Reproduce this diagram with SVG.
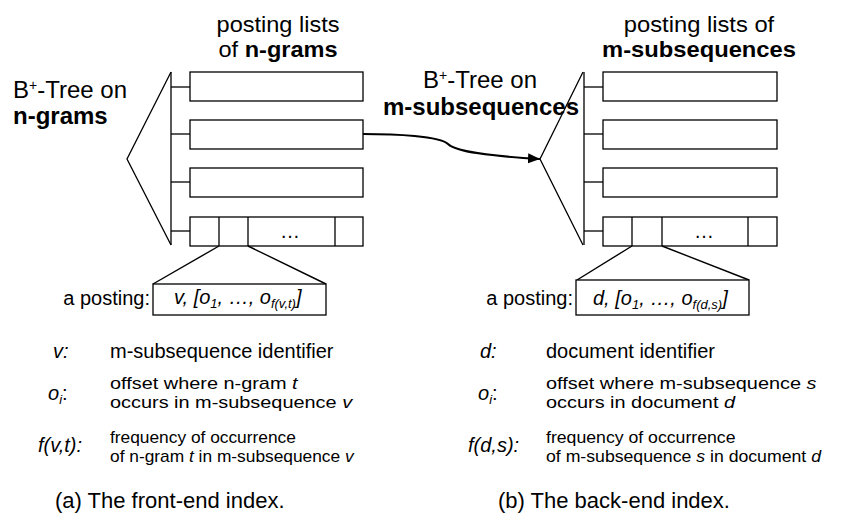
<svg xmlns="http://www.w3.org/2000/svg" width="864" height="516" viewBox="0 0 864 516">
  <style>
    text { font-family: "Liberation Sans", Arial, sans-serif; fill: #000; }
    .title { font-size: 24px; }
    .head { font-size: 22px; }
    .b { font-weight: bold; }
    .it { font-style: italic; }
    .lg { font-size: 20px; }
    .lgs { font-size: 17px; }
    .cap { font-size: 22px; }
    .sup { font-size: 14px; }
    .sub { font-size: 13px; }
    .box { fill: #fff; stroke: #000; stroke-width: 1.3; }
    .ln { fill: none; stroke: #000; stroke-width: 1.3; }
    .zoom { fill: none; stroke: #000; stroke-width: 1.4; }
    .conn { fill: none; stroke: #000; stroke-width: 2; }
  </style>
  <defs>
    <marker id="head" markerUnits="userSpaceOnUse" markerWidth="13" markerHeight="11" refX="12" refY="5" orient="auto">
      <path d="M0,0 L12,5 L0,10 z" fill="#000"/>
    </marker>
  </defs>
  <rect width="864" height="516" fill="#fff"/>

  <!-- front-end index: B+-tree on n-grams -->
  <g id="tree-ngrams">
    <polyline class="ln" points="171,72 127,159 171,245"/>
    <line class="ln" x1="171" y1="72" x2="171" y2="245"/>
    <line class="ln" x1="171" y1="87" x2="190" y2="87"/>
    <line class="ln" x1="171" y1="134" x2="190" y2="134"/>
    <line class="ln" x1="171" y1="182" x2="190" y2="182"/>
    <line class="ln" x1="171" y1="231" x2="190" y2="231"/>
    <text class="title" x="13" y="98">B<tspan class="sup" dy="-8">+</tspan><tspan dy="8">-Tree on</tspan></text>
    <text class="title b" x="13" y="124">n-grams</text>
  </g>

  <g id="lists-ngrams">
    <g transform="translate(278,0) scale(1.07,1)">
      <text class="head" x="0" y="32" text-anchor="middle">posting lists</text>
      <text class="head" x="0" y="57" text-anchor="middle">of <tspan class="b">n-grams</tspan></text>
    </g>
    <rect class="box" x="190" y="72" width="173" height="29"/>
    <rect class="box" x="190" y="120" width="173" height="29"/>
    <rect class="box" x="190" y="168" width="173" height="29"/>
    <rect class="box" x="190" y="217" width="173" height="29"/>
    <line class="ln" x1="219" y1="217" x2="219" y2="246"/>
    <line class="ln" x1="248" y1="217" x2="248" y2="246"/>
    <line class="ln" x1="335" y1="217" x2="335" y2="246"/>
    <text class="lg" x="290" y="238" text-anchor="middle">…</text>
  </g>

  <g id="posting-ngrams">
    <line class="zoom" x1="219" y1="246" x2="153" y2="284"/>
    <line class="zoom" x1="248" y1="246" x2="326" y2="284"/>
    <text class="lg" x="150" y="305" text-anchor="end">a posting:</text>
    <rect class="box" x="153" y="284" width="173" height="31"/>
    <text class="lg it" x="174" y="304">v, [o<tspan class="sub" dy="4">1</tspan><tspan dy="-4">, …, o</tspan><tspan class="sub" dy="4">f(v,t)</tspan><tspan dy="-4">]</tspan></text>
  </g>

  <!-- back-end index: B+-tree on m-subsequences -->
  <g id="tree-msubseq">
    <polyline class="ln" points="583,72 540,159 583,245"/>
    <line class="ln" x1="584" y1="72" x2="584" y2="245"/>
    <line class="ln" x1="584" y1="87" x2="603" y2="87"/>
    <line class="ln" x1="584" y1="134" x2="603" y2="134"/>
    <line class="ln" x1="584" y1="182" x2="603" y2="182"/>
    <line class="ln" x1="584" y1="231" x2="603" y2="231"/>
    <text class="title" x="423" y="88">B<tspan class="sup" dy="-8">+</tspan><tspan dy="8">-Tree on</tspan></text>
    <text class="title b" x="383" y="115">m-subsequences</text>
  </g>

  <g id="lists-msubseq">
    <g transform="translate(699,0) scale(1.08,1)">
      <text class="head" x="0" y="32" text-anchor="middle">posting lists of</text>
      <text class="head b" x="0" y="57" text-anchor="middle">m-subsequences</text>
    </g>
    <rect class="box" x="603" y="72" width="174" height="29"/>
    <rect class="box" x="603" y="120" width="174" height="29"/>
    <rect class="box" x="603" y="168" width="174" height="29"/>
    <rect class="box" x="603" y="217" width="174" height="29"/>
    <line class="ln" x1="632" y1="217" x2="632" y2="246"/>
    <line class="ln" x1="662" y1="217" x2="662" y2="246"/>
    <line class="ln" x1="748" y1="217" x2="748" y2="246"/>
    <text class="lg" x="704" y="238" text-anchor="middle">…</text>
  </g>

  <g id="posting-msubseq">
    <line class="zoom" x1="632" y1="246" x2="577" y2="280"/>
    <line class="zoom" x1="662" y1="246" x2="749" y2="280"/>
    <text class="lg" x="573" y="305" text-anchor="end">a posting:</text>
    <rect class="box" x="576" y="280" width="173" height="35"/>
    <text class="lg it" x="593" y="305">d, [o<tspan class="sub" dy="4">1</tspan><tspan dy="-4">, …, o</tspan><tspan class="sub" dy="4">f(d,s)</tspan><tspan dy="-4">]</tspan></text>
  </g>

  <!-- connector: n-gram posting list points into the m-subsequence tree -->
  <g id="connectors">
    <path class="conn" d="M363,134 C395,134 440,136 448,144 C456,152 490,156 540,159" marker-end="url(#head)"/>
  </g>

  <!-- legend, front-end -->
  <g id="legend-front">
    <text class="lg it" x="53" y="358">v:</text>
    <text class="lg" x="110" y="358">m-subsequence identifier</text>
    <text class="lg" x="48" y="400"><tspan class="it">o</tspan><tspan class="sub it" dy="4">i</tspan><tspan dy="-4">:</tspan></text>
    <g transform="translate(110,0) scale(1.17,1)">
      <text class="lgs" x="0" y="389">offset where n-gram <tspan class="it">t</tspan></text>
      <text class="lgs" x="0" y="408">occurs in m-subsequence <tspan class="it">v</tspan></text>
    </g>
    <text class="lg it" x="38" y="452">f(v,t):</text>
    <g transform="translate(110,0) scale(1.02,1)">
      <text class="lgs" x="0" y="443">frequency of occurrence</text>
      <text class="lgs" x="0" y="462">of n-gram <tspan class="it">t</tspan> in m-subsequence <tspan class="it">v</tspan></text>
    </g>
    <text class="cap" x="55" y="508">(a) The front-end index.</text>
  </g>

  <!-- legend, back-end -->
  <g id="legend-back">
    <text class="lg it" x="480" y="358">d:</text>
    <text class="lg" x="546" y="358">document identifier</text>
    <text class="lg" x="478" y="400"><tspan class="it">o</tspan><tspan class="sub it" dy="4">i</tspan><tspan dy="-4">:</tspan></text>
    <g transform="translate(546,0) scale(1.17,1)">
      <text class="lgs" x="0" y="389">offset where m-subsequence <tspan class="it">s</tspan></text>
      <text class="lgs" x="0" y="408">occurs in document <tspan class="it">d</tspan></text>
    </g>
    <text class="lg it" x="468" y="452">f(d,s):</text>
    <g transform="translate(546,0) scale(1.04,1)">
      <text class="lgs" x="0" y="443">frequency of occurrence</text>
      <text class="lgs" x="0" y="462">of m-subsequence <tspan class="it">s</tspan> in document <tspan class="it">d</tspan></text>
    </g>
    <text class="cap" x="498" y="508">(b) The back-end index.</text>
  </g>
</svg>
